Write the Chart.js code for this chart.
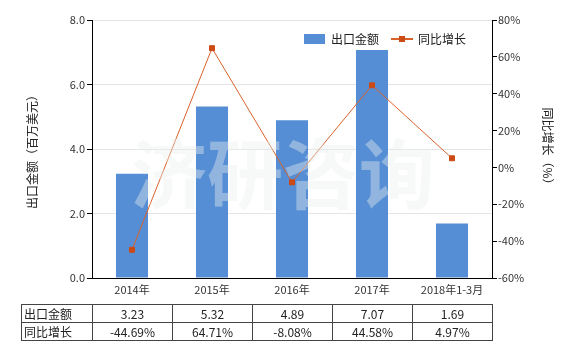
<!DOCTYPE html>
<html>
<head>
<meta charset="utf-8">
<script src="https://cdn.jsdelivr.net/npm/chart.js@4"></script>
<style>
  body { margin: 0; background: #fff; }
  #wrap { position: relative; width: 580px; height: 350px; }
  #dataTable {
    position: absolute; left: 21px; top: 304px;
    border-collapse: collapse;
    font: 12px "Noto Sans CJK SC", "Noto Sans", sans-serif; color: #222;
  }
  #dataTable td {
    border: 1px solid #444; height: 17px; padding: 0; text-align: center;
    line-height: 17px; width: 79px;
  }
  #dataTable td.label { text-align: left; padding-left: 2px; width: 68px; }
</style>
</head>
<body>
<div id="wrap">
  <canvas id="chart" width="580" height="350"></canvas>
  <table id="dataTable"></table>
</div>
<script>
// Chart data
const categories = ["2014年", "2015年", "2016年", "2017年", "2018年1-3月"];
const exportValues = [3.23, 5.32, 4.89, 7.07, 1.69];
const growthRates = [-44.69, 64.71, -8.08, 44.58, 4.97];
const leftTicks = [0, 2, 4, 6, 8];
const rightTicks = [-60, -40, -20, 0, 20, 40, 60, 80];

const barColor = "#558ed5";
const lineColor = "#d9622b";
const pointColor = "#cc4a14";
const cjkFont = '"Noto Sans CJK SC", "Noto Sans", sans-serif';

// Build the table under the chart
function buildTable() {
  const table = document.getElementById("dataTable");
  const rows = [
    ["出口金额", exportValues.map((v) => v.toFixed(2))],
    ["同比增长", growthRates.map((v) => v.toFixed(2) + "%")],
  ];
  rows.forEach(([label, values]) => {
    const tr = document.createElement("tr");
    tr.innerHTML =
      `<td class="label">${label}</td>` +
      values.map((v) => `<td>${v}</td>`).join("");
    table.appendChild(tr);
  });
}

// Legend, axis titles and watermark
const decorations = {
  id: "decorations",
  afterDatasetsDraw(chart) {
    const ctx = chart.ctx;
    ctx.save();
    ctx.font = "bold 76px " + cjkFont;
    ctx.fillStyle = "rgba(236, 241, 237, 0.4)";
    ctx.textAlign = "center";
    ctx.textBaseline = "middle";
    ctx.fillText("济研咨询", 283, 174);
    ctx.restore();
  },
  afterDraw(chart) {
    const ctx = chart.ctx;
    const area = chart.chartArea;
    const midY = (area.top + area.bottom) / 2;
    ctx.save();
    ctx.font = "12px " + cjkFont;
    ctx.fillStyle = "#222";
    ctx.textBaseline = "middle";

    // legend
    ctx.fillStyle = barColor;
    ctx.fillRect(304, 34, 21, 10);
    ctx.fillStyle = "#222";
    ctx.fillText("出口金额", 331, 39);
    ctx.strokeStyle = lineColor;
    ctx.lineWidth = 2;
    ctx.beginPath();
    ctx.moveTo(391, 39);
    ctx.lineTo(413, 39);
    ctx.stroke();
    ctx.fillStyle = pointColor;
    ctx.fillRect(399, 36, 6, 6);
    ctx.fillStyle = "#222";
    ctx.fillText("同比增长", 418, 39);

    // axis titles
    ctx.textAlign = "center";
    ctx.save();
    ctx.translate(32, midY);
    ctx.rotate(-Math.PI / 2);
    ctx.fillText("出口金额（百万美元）", 0, 0);
    ctx.restore();
    ctx.save();
    ctx.translate(548, midY);
    ctx.rotate(Math.PI / 2);
    ctx.fillText("同比增长（%）", 0, 0);
    ctx.restore();
    ctx.restore();
  },
};

function initializeChart() {
  const ctx = document.getElementById("chart").getContext("2d");
  new Chart(ctx, {
    data: {
      labels: categories,
      datasets: [
        {
          type: "line",
          label: "同比增长",
          data: growthRates,
          yAxisID: "y1",
          borderColor: lineColor,
          borderWidth: 1,
          pointStyle: "rect",
          pointRadius: 3.5,
          pointBackgroundColor: pointColor,
          pointBorderColor: pointColor,
          tension: 0,
          order: 0,
        },
        {
          type: "bar",
          label: "出口金额",
          data: exportValues,
          yAxisID: "y",
          backgroundColor: barColor,
          barPercentage: 0.4,
          categoryPercentage: 1,
          order: 1,
        },
      ],
    },
    options: {
      responsive: false,
      animation: false,
      layout: { padding: { top: 20, left: 0, right: 0, bottom: 0 } },
      plugins: { legend: { display: false }, tooltip: { enabled: false } },
      scales: {
        x: {
          grid: { display: false, drawTicks: false },
          border: { color: "#000" },
          ticks: { color: "#333", font: { size: 11, family: cjkFont }, padding: 5, maxRotation: 0 },
          afterFit: (scale) => { scale.height = 72; },
        },
        y: {
          position: "left",
          min: 0,
          max: 8,
          afterBuildTicks: (scale) => { scale.ticks = leftTicks.map((v) => ({ value: v })); },
          grid: { color: "#e4e4e4", tickColor: "#000", tickLength: 5 },
          border: { color: "#000" },
          ticks: {
            color: "#333", font: { size: 11, family: cjkFont }, padding: 2,
            callback: (v) => v.toFixed(1),
          },
          afterFit: (scale) => { scale.width = 92; },
        },
        y1: {
          position: "right",
          min: -60,
          max: 80,
          afterBuildTicks: (scale) => { scale.ticks = rightTicks.map((v) => ({ value: v })); },
          grid: { drawOnChartArea: false, tickColor: "#000", tickLength: 5 },
          border: { color: "#000" },
          ticks: {
            color: "#333", font: { size: 11, family: cjkFont }, padding: 1,
            callback: (v) => v + "%",
          },
          afterFit: (scale) => { scale.width = 88; },
        },
      },
    },
    plugins: [decorations],
  });
}

document.addEventListener("DOMContentLoaded", function () {
  buildTable();
  initializeChart();
});
</script>
</body>
</html>
